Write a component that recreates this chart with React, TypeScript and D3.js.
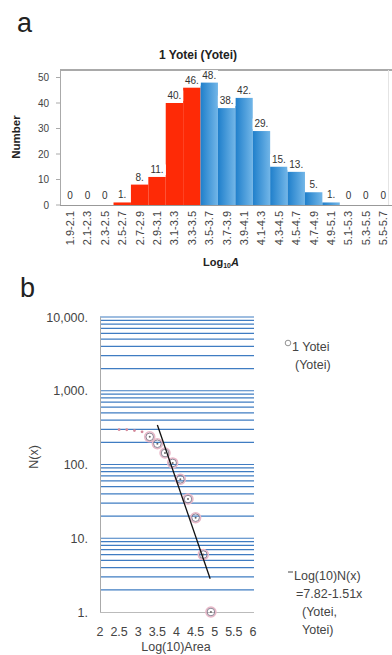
import React from "react";
import * as d3 from "d3";

// panel a: histogram of log10 area
const binLabels = [
  "1.9-2.1", "2.1-2.3", "2.3-2.5", "2.5-2.7", "2.7-2.9", "2.9-3.1", "3.1-3.3",
  "3.3-3.5", "3.5-3.7", "3.7-3.9", "3.9-4.1", "4.1-4.3", "4.3-4.5", "4.5-4.7",
  "4.7-4.9", "4.9-5.1", "5.1-5.3", "5.3-5.5", "5.5-5.7",
];
const binCounts = [0, 0, 0, 1, 8, 11, 40, 46, 48, 38, 42, 29, 15, 13, 5, 1, 0, 0, 0];
const yTicksA = [0, 10, 20, 30, 40, 50];

// panel b: cumulative count N(x) on log scale
const cumX = [2.5, 2.7, 2.9, 3.1, 3.3, 3.5, 3.7, 3.9, 4.1, 4.3, 4.5, 4.7, 4.9];
const cumN = [297, 296, 288, 277, 237, 191, 143, 105, 63, 34, 19, 6, 1];
const xTicksB = [2, 2.5, 3, 3.5, 4, 4.5, 5, 5.5, 6];
const yTicksB = [1, 10, 100, 1000, 10000];
const fitIntercept = 7.82;
const fitSlope = -1.51;
const fitRange = [3.5, 4.88];

const FONT = "'Liberation Sans', Arial, sans-serif";

const App: React.FC = () => {
  const W = 392;
  const H = 655;

  // ---- panel a scales
  const xA = d3.scaleBand<string>().domain(binLabels).range([61.3, 392]).padding(0);
  const yA = d3.scaleLinear().domain([0, 50]).range([205, 77.5]);
  const bw = xA.bandwidth();
  const isRed = (lab: string) => parseFloat(lab) >= 2.5 && parseFloat(lab) < 3.5;

  // ---- panel b scales
  const xB = d3.scaleLinear().domain([2, 6]).range([100, 253]);
  const yB = d3.scaleLog().domain([1, 10000]).range([612, 317]);
  const gridVals = yB.ticks().filter((v) => v > 1);
  const fitLine = d3
    .line<number>()
    .x((d) => xB(d))
    .y((d) => yB(Math.pow(10, fitIntercept + fitSlope * d)));

  return (
    <div style={{ position: "absolute", left: 0, top: 0 }}>
      <svg width={W} height={H} style={{ display: "block", fontFamily: FONT }}>
        <defs>
          <linearGradient id="blueGrad" x1="0" y1="0" x2="1" y2="0">
            <stop offset="0" stopColor="#1f7fcb" />
            <stop offset="1" stopColor="#72b6e8" />
          </linearGradient>
        </defs>
        <rect width={W} height={H} fill="#fff" />

        {/* ---------- panel a ---------- */}
        <text x={17} y={32} fontSize={27} fill="#222">a</text>
        <text x={198} y={59} fontSize={12} fontWeight="bold" textAnchor="middle" fill="#222">
          1 Yotei (Yotei)
        </text>
        <line x1={60} x2={392} y1={70} y2={70} stroke="#555" strokeWidth={1} />
        <line x1={388.5} x2={388.5} y1={70} y2={205} stroke="#e4e4e4" />
        <line x1={60.5} x2={60.5} y1={70} y2={205} stroke="#aaa" />
        <line x1={60} x2={392} y1={205.5} y2={205.5} stroke="#999" />

        {yTicksA.map((t) => (
          <g key={t}>
            <line x1={56} x2={60} y1={yA(t)} y2={yA(t)} stroke="#aaa" />
            <text x={49} y={yA(t) + 3.5} fontSize={10} textAnchor="end" fill="#444">{t}</text>
          </g>
        ))}
        <text
          transform={`translate(20,137) rotate(-90)`}
          fontSize={11.5}
          fontWeight="bold"
          textAnchor="middle"
          fill="#222"
        >
          Number
        </text>

        {binLabels.map((lab, i) => {
          const v = binCounts[i];
          if (v === 0) return null;
          return (
            <rect
              key={lab}
              x={xA(lab)!}
              y={yA(v)}
              width={bw}
              height={yA(0) - yA(v)}
              fill={isRed(lab) ? "#fe2a06" : "url(#blueGrad)"}
            />
          );
        })}

        {binLabels.map((lab, i) => {
          const v = binCounts[i];
          const s = v === 0 ? "0" : `${v}.`;
          const cx = xA(lab)! + bw / 2;
          const by = v === 0 ? yA(0) - 6 : yA(v) - 4;
          const tw = s.length * 5.2;
          return (
            <g key={"l" + lab}>
              <rect x={cx - tw / 2 - 1} y={by - 8.5} width={tw + 2} height={10.5} fill="#fff" />
              <text x={cx} y={by} fontSize={10} textAnchor="middle" fill="#333">{s}</text>
            </g>
          );
        })}

        {binLabels.map((lab) => (
          <text
            key={"x" + lab}
            transform={`translate(${xA(lab)! + bw / 2 + 4},211) rotate(-90)`}
            fontSize={11}
            textAnchor="end"
            fill="#444"
          >
            {lab}
          </text>
        ))}
        <text x={221} y={266} fontSize={11} fontWeight="bold" textAnchor="middle" fill="#222">
          Log<tspan fontSize={7} dy={2}>10</tspan>
          <tspan dy={-2} fontStyle="italic">A</tspan>
        </text>

        {/* ---------- panel b ---------- */}
        <text x={20} y={297} fontSize={27} fill="#222">b</text>

        {gridVals.map((v) => (
          <line
            key={"g" + v}
            x1={100}
            x2={254}
            y1={yB(v)}
            y2={yB(v)}
            stroke="#3f7cc2"
            strokeWidth={1.2}
          />
        ))}
        <line x1={100.5} x2={100.5} y1={317} y2={612} stroke="#aaa" />
        <line x1={100} x2={254} y1={612.5} y2={612.5} stroke="#bbb" />

        {yTicksB.map((t) => (
          <text key={"yb" + t} x={88} y={yB(t) + 4.5} fontSize={12.5} textAnchor="end" fill="#444">
            {d3.format(",")(t) + "."}
          </text>
        ))}
        {xTicksB.map((t) => (
          <text key={"xb" + t} x={xB(t)} y={636} fontSize={12.5} textAnchor="middle" fill="#444">
            {String(t)}
          </text>
        ))}
        <text x={176} y={651} fontSize={12.5} textAnchor="middle" fill="#444">Log(10)Area</text>
        <text transform={`translate(38,457) rotate(-90)`} fontSize={12.5} textAnchor="middle" fill="#444">
          N(x)
        </text>

        {cumX.map((x, i) =>
          x < 3.25 ? (
            <circle key={"p" + i} cx={xB(x)} cy={yB(cumN[i])} r={1.4} fill="#d48a9c" />
          ) : (
            <g key={"p" + i}>
              <circle cx={xB(x)} cy={yB(cumN[i])} r={5} fill="none" stroke="#e9b8c8" strokeWidth={1.5} />
              <circle cx={xB(x)} cy={yB(cumN[i])} r={3.8} fill="none" stroke="#7d7486" strokeWidth={0.9} />
              <circle cx={xB(x)} cy={yB(cumN[i])} r={1} fill="#666" />
            </g>
          )
        )}

        <path d={fitLine(fitRange) || ""} fill="none" stroke="#111" strokeWidth={1.3} />

        {/* legend */}
        <circle cx={288} cy={343} r={2.8} fill="none" stroke="#777" strokeWidth={0.8} />
        <text x={292} y={351} fontSize={12.5} fill="#444">1 Yotei</text>
        <text x={295} y={369} fontSize={12.5} fill="#444">(Yotei)</text>

        <line x1={288} x2={293} y1={572} y2={572} stroke="#444" strokeWidth={1} />
        <text x={294} y={580} fontSize={12.5} fill="#444">Log(10)N(x)</text>
        <text x={296} y={598} fontSize={12.5} fill="#444">=7.82-1.51x</text>
        <text x={302} y={616} fontSize={12.5} fill="#444">(Yotei,</text>
        <text x={302} y={634} fontSize={12.5} fill="#444">Yotei)</text>
      </svg>
    </div>
  );
};

export default App;
